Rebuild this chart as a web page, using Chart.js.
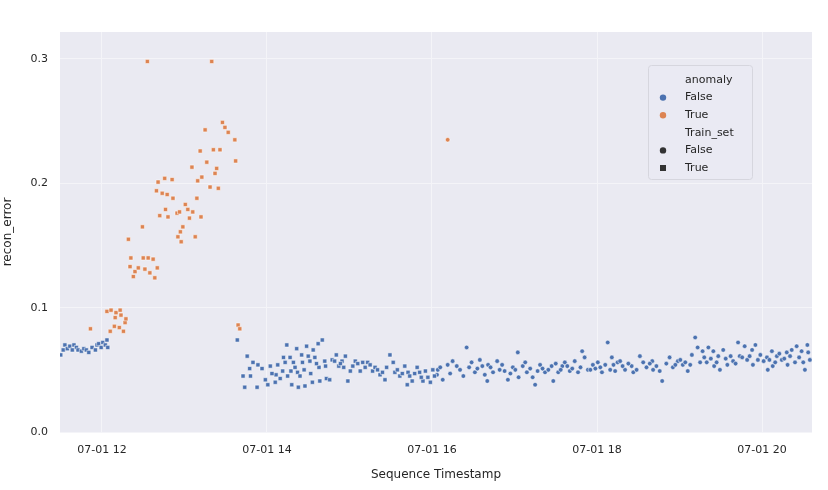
<!DOCTYPE html>
<html>
<head>
<meta charset="utf-8">
<script src="https://cdn.jsdelivr.net/npm/chart.js@4.4.1/dist/chart.umd.min.js"></script>
<style>
  html, body { margin: 0; padding: 0; background: #ffffff; }
  #wrap { width: 828px; height: 490px; position: relative; }
</style>
</head>
<body>
<div id="wrap"><canvas id="chart" width="828" height="490"></canvas></div>
<script>
// Time is in hours of 07-01, error is recon_error

// Train set, anomaly False
const TRAIN_NORMAL_T = [
  11.50, 11.53, 11.55, 11.58, 11.61, 11.64, 11.66, 11.69, 11.71, 11.75, 11.78,
  11.81, 11.84, 11.88, 11.92, 11.94, 11.96, 11.99, 12.01, 12.04, 12.06, 12.07,
  13.64, 13.71, 13.73, 13.76, 13.79, 13.80, 13.83, 13.88, 13.89, 13.94, 13.98,
  14.01, 14.04, 14.10, 14.11, 14.13, 14.16, 14.19, 14.22, 14.24, 14.25, 14.28,
  14.29, 14.30, 14.32, 14.36, 14.37, 14.38, 14.40, 14.42, 14.43, 14.46, 14.48,
  14.50, 14.52, 14.55, 14.56, 14.58, 14.62, 14.63, 14.64, 14.67, 14.70, 14.71,
  14.72, 14.76, 14.79, 14.84, 14.87, 14.91, 14.95, 14.98, 15.01, 15.04, 15.07,
  15.13, 15.16, 15.22, 15.28, 15.37, 15.43, 15.45, 15.49, 15.53, 15.55, 15.61,
  15.67, 15.70, 15.71, 15.76, 15.82, 15.85, 15.89, 15.92, 15.95, 15.98, 16.01,
  14.06, 14.20, 14.34, 14.45, 14.53, 14.60, 14.82, 14.89, 14.93, 15.10, 15.19,
  15.25, 15.31, 15.34, 15.40, 15.58, 15.64, 15.73, 15.79, 15.87, 16.03
];
const TRAIN_NORMAL_E = [
  0.062, 0.066, 0.070, 0.067, 0.069, 0.066, 0.070, 0.068, 0.066, 0.065, 0.067,
  0.066, 0.064, 0.068, 0.066, 0.070, 0.071, 0.068, 0.072, 0.070, 0.074, 0.068,
  0.074, 0.045, 0.036, 0.061, 0.051, 0.045, 0.056, 0.036, 0.054, 0.051, 0.042,
  0.038, 0.053, 0.040, 0.046, 0.054, 0.043, 0.049, 0.056, 0.070, 0.045, 0.060,
  0.049, 0.038, 0.056, 0.067, 0.048, 0.036, 0.045, 0.062, 0.056, 0.037, 0.069,
  0.061, 0.057, 0.040, 0.066, 0.060, 0.071, 0.052, 0.041, 0.074, 0.057, 0.053,
  0.043, 0.042, 0.058, 0.062, 0.053, 0.057, 0.061, 0.041, 0.049, 0.053, 0.057,
  0.049, 0.056, 0.056, 0.049, 0.046, 0.042, 0.052, 0.062, 0.056, 0.048, 0.045,
  0.053, 0.038, 0.048, 0.041, 0.052, 0.048, 0.041, 0.049, 0.044, 0.040, 0.050,
  0.047, 0.060, 0.052, 0.050, 0.047, 0.055, 0.057, 0.055, 0.052, 0.055, 0.052,
  0.054, 0.052, 0.050, 0.048, 0.050, 0.047, 0.045, 0.047, 0.044, 0.045
];

// Train set, anomaly True
const TRAIN_ANOM_T = [
  11.86, 12.06, 12.10, 12.11, 12.15, 12.16, 12.17, 12.21, 12.22, 12.23, 12.26,
  12.28, 12.29, 12.32, 12.34, 12.35, 12.38, 12.40, 12.44, 12.49, 12.50, 12.52,
  12.55, 12.56, 12.58, 12.62, 12.64, 12.67, 12.66, 12.68, 12.70, 12.73, 12.76,
  12.77, 12.79, 12.80, 12.85, 12.86, 12.91, 12.92, 12.95, 12.94, 12.96, 12.98,
  13.01, 13.04, 13.06, 13.09, 13.10, 13.13, 13.15, 13.16, 13.19, 13.20, 13.21,
  13.25, 13.27, 13.31, 13.33, 13.35, 13.37, 13.39, 13.41, 13.43, 13.46, 13.49,
  13.53, 13.61, 13.62, 13.65, 13.67
];
const TRAIN_ANOM_E = [
  0.083, 0.097, 0.081, 0.098, 0.085, 0.092, 0.096, 0.084, 0.098, 0.094, 0.081,
  0.088, 0.091, 0.155, 0.133, 0.140, 0.125, 0.129, 0.132, 0.165, 0.140, 0.131,
  0.298, 0.140, 0.128, 0.139, 0.124, 0.132, 0.194, 0.201, 0.174, 0.192, 0.204,
  0.179, 0.191, 0.173, 0.203, 0.188, 0.176, 0.157, 0.161, 0.177, 0.153, 0.165,
  0.183, 0.179, 0.172, 0.213, 0.177, 0.157, 0.188, 0.202, 0.226, 0.173, 0.205,
  0.243, 0.217, 0.197, 0.298, 0.227, 0.208, 0.212, 0.196, 0.227, 0.249, 0.245,
  0.241, 0.235, 0.218, 0.086, 0.083
];

// Test set, anomaly False
const TEST_NORMAL_T = [
  16.06, 16.07, 16.13, 16.19, 16.25, 16.30, 16.38, 16.42, 16.48, 16.52, 16.58,
  16.64, 16.67, 16.68, 16.74, 16.79, 16.85, 16.88, 16.92, 16.98, 17.04, 17.05,
  17.10, 17.15, 17.22, 17.25, 17.31, 17.37, 17.45, 17.47, 17.53, 17.58, 17.61,
  17.67, 17.73, 17.77, 17.82, 17.85, 17.89, 17.95, 18.01, 18.06, 18.10, 18.13,
  18.16, 18.18, 18.22, 18.25, 18.28, 18.34, 18.42, 18.44, 18.52, 18.56, 18.67,
  18.68, 18.76, 18.79, 18.88, 18.92, 18.98, 19.04, 19.10, 19.15, 19.19, 19.22,
  19.25, 19.28, 19.33, 19.35, 19.41, 19.42, 19.47, 19.49, 19.53, 19.58, 19.65,
  19.71, 19.73, 19.79, 19.82, 19.88, 19.89, 19.92, 19.98, 20.06, 20.07, 20.12,
  20.13, 20.18, 20.24, 20.30, 20.31, 20.36, 20.40, 20.42, 20.48, 20.50, 20.52,
  20.55, 20.56,
  16.10, 16.22, 16.34, 16.45, 16.55, 16.61, 16.71, 16.82, 16.95, 17.01, 17.13,
  17.19, 17.28, 17.34, 17.41, 17.50, 17.56, 17.64, 17.70, 17.80, 17.92, 17.98,
  18.04, 18.20, 18.31, 18.38, 18.48, 18.60, 18.64, 18.72, 18.84, 18.95, 19.01,
  19.07, 19.13, 19.30, 19.38, 19.45, 19.56, 19.62, 19.68, 19.76, 19.85, 19.95,
  20.02, 20.09, 20.16, 20.21, 20.27, 20.34, 20.45, 20.58
];
const TEST_NORMAL_E = [
  0.046, 0.050, 0.042, 0.054, 0.057, 0.053, 0.045, 0.068, 0.056, 0.048, 0.058,
  0.046, 0.041, 0.054, 0.048, 0.057, 0.054, 0.049, 0.042, 0.052, 0.064, 0.044,
  0.053, 0.048, 0.044, 0.038, 0.054, 0.048, 0.053, 0.041, 0.048, 0.053, 0.056,
  0.049, 0.057, 0.048, 0.065, 0.060, 0.050, 0.054, 0.056, 0.048, 0.054, 0.072,
  0.050, 0.060, 0.049, 0.056, 0.057, 0.050, 0.053, 0.048, 0.061, 0.056, 0.057,
  0.050, 0.049, 0.041, 0.060, 0.052, 0.057, 0.054, 0.049, 0.062, 0.076, 0.068,
  0.056, 0.065, 0.056, 0.068, 0.065, 0.053, 0.061, 0.050, 0.066, 0.054, 0.057,
  0.072, 0.061, 0.069, 0.058, 0.066, 0.054, 0.070, 0.062, 0.060, 0.050, 0.065,
  0.053, 0.061, 0.058, 0.064, 0.054, 0.066, 0.056, 0.069, 0.065, 0.056, 0.050,
  0.070, 0.064,
  0.052, 0.047, 0.050, 0.052, 0.051, 0.053, 0.052, 0.050, 0.047, 0.050, 0.056,
  0.051, 0.049, 0.051, 0.050, 0.055, 0.050, 0.053, 0.051, 0.052, 0.050, 0.051,
  0.052, 0.054, 0.053, 0.055, 0.050, 0.052, 0.055, 0.053, 0.055, 0.054, 0.058,
  0.056, 0.054, 0.060, 0.059, 0.056, 0.059, 0.061, 0.055, 0.060, 0.061, 0.058,
  0.057, 0.058, 0.056, 0.063, 0.059, 0.061, 0.060, 0.058
];

// Test set, anomaly True
const TEST_ANOM_T = [16.19];
const TEST_ANOM_E = [0.235];

const X_TICKS = [12, 14, 16, 18, 20];
const Y_TICKS = [0.0, 0.1, 0.2, 0.3];

const BLUE = '#4c72b0';
const ORANGE = '#dd8452';
const INK = '#262626';
const FONT = 'DejaVu Sans';

const pts = (ts, es) => ts.map((t, i) => ({ x: t, y: es[i] }));

function ds(label, data, color, shape) {
  return {
    label,
    data,
    backgroundColor: color,
    borderColor: '#ffffff',
    borderWidth: 0.5,
    pointStyle: shape,
    pointRadius: shape === 'rect' ? 2.9 : 2.3,
    pointHoverRadius: 3.5,
  };
}

// grey panel behind the plot, like seaborn darkgrid
const panelBg = {
  id: 'panelBg',
  beforeDraw(chart) {
    const { ctx, chartArea: a } = chart;
    ctx.save();
    ctx.fillStyle = '#eaeaf2';
    ctx.fillRect(a.left, a.top, a.right - a.left, a.bottom - a.top);
    ctx.restore();
  },
};

// legend with the two group headers
const groupLegend = {
  id: 'groupLegend',
  afterDatasetsDraw(chart) {
    const { ctx, chartArea: a } = chart;
    const x0 = a.right - 164, y0 = a.top + 33, w = 104, h = 114;
    ctx.save();
    ctx.fillStyle = 'rgba(234,234,242,0.8)';
    ctx.strokeStyle = '#d6d6de';
    ctx.lineWidth = 1;
    ctx.beginPath();
    ctx.roundRect(x0 + 0.5, y0 + 0.5, w, h, 3);
    ctx.fill();
    ctx.stroke();

    const rows = [
      { text: 'anomaly' },
      { text: 'False', color: BLUE, shape: 'circle' },
      { text: 'True', color: ORANGE, shape: 'circle' },
      { text: 'Train_set' },
      { text: 'False', color: '#333333', shape: 'circle' },
      { text: 'True', color: '#333333', shape: 'rect' },
    ];
    ctx.font = `11px "${FONT}"`;
    ctx.textBaseline = 'middle';
    ctx.fillStyle = INK;
    rows.forEach((r, i) => {
      const cy = y0 + 15 + i * 17.6;
      if (r.color) {
        ctx.fillStyle = r.color;
        ctx.beginPath();
        if (r.shape === 'rect') ctx.rect(x0 + 12, cy - 3, 6, 6);
        else ctx.arc(x0 + 15, cy, 3.2, 0, Math.PI * 2);
        ctx.fill();
      }
      ctx.fillStyle = INK;
      ctx.fillText(r.text, x0 + 37, cy);
    });
    ctx.restore();
  },
};

new Chart(document.getElementById('chart'), {
  type: 'scatter',
  data: {
    datasets: [
      ds('anomaly False, Train_set True', pts(TRAIN_NORMAL_T, TRAIN_NORMAL_E), BLUE, 'rect'),
      ds('anomaly False, Train_set False', pts(TEST_NORMAL_T, TEST_NORMAL_E), BLUE, 'circle'),
      ds('anomaly True, Train_set True', pts(TRAIN_ANOM_T, TRAIN_ANOM_E), ORANGE, 'rect'),
      ds('anomaly True, Train_set False', pts(TEST_ANOM_T, TEST_ANOM_E), ORANGE, 'circle'),
    ],
  },
  plugins: [panelBg, groupLegend],
  options: {
    responsive: false,
    animation: false,
    layout: { padding: { left: 0, right: 16, top: 32, bottom: 0 } },
    plugins: {
      legend: { display: false },
      tooltip: { enabled: false },
    },
    scales: {
      x: {
        type: 'linear',
        min: 11.491,
        max: 20.606,
        afterBuildTicks: (s) => { s.ticks = X_TICKS.map(v => ({ value: v })); },
        afterFit: (s) => { s.height = 58; },
        grid: { color: '#f4f4f8', lineWidth: 1, drawTicks: false },
        border: { display: false },
        ticks: {
          padding: 12,
          color: INK,
          font: { family: FONT, size: 11 },
          maxRotation: 0,
          callback: (v) => `07-01 ${v}`,
        },
        title: {
          display: true,
          text: 'Sequence Timestamp',
          color: INK,
          font: { family: FONT, size: 12 },
          padding: { top: 0, bottom: 8 },
        },
      },
      y: {
        min: 0,
        max: 0.3217,
        afterBuildTicks: (s) => { s.ticks = Y_TICKS.map(v => ({ value: v })); },
        afterFit: (s) => { s.width = 60; },
        grid: { color: '#f4f4f8', lineWidth: 1, drawTicks: false },
        border: { display: false },
        ticks: {
          padding: 12,
          color: INK,
          font: { family: FONT, size: 11 },
          callback: (v) => v.toFixed(1),
        },
        title: {
          display: true,
          text: 'recon_error',
          color: INK,
          font: { family: FONT, size: 12 },
          padding: { top: 1, bottom: 0 },
        },
      },
    },
  },
});
</script>
</body>
</html>
